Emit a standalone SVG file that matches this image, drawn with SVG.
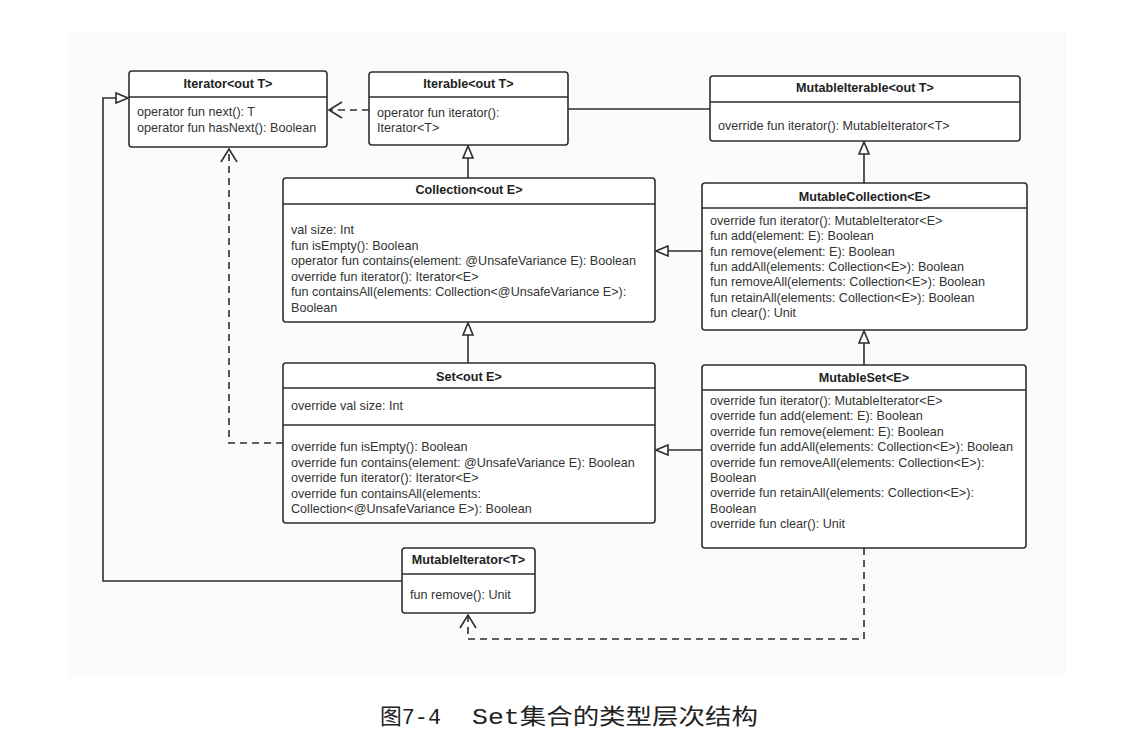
<svg xmlns="http://www.w3.org/2000/svg" width="1130" height="738" viewBox="0 0 1130 738">
<style>
.box{fill:#fff;stroke:#2e2e2e;stroke-width:1.6}
.sep{stroke:#2e2e2e;stroke-width:1.6}
.t{font-family:"Liberation Sans",Arial,sans-serif;font-size:12.6px;fill:#333}
.h{font-family:"Liberation Sans",Arial,sans-serif;font-size:12.6px;font-weight:bold;fill:#222;text-anchor:middle}
.c{fill:none;stroke:#2e2e2e;stroke-width:1.6}
.d{stroke-dasharray:7 5}
.cap{font-family:"Liberation Mono","Noto Sans CJK SC",monospace;font-size:22px;fill:#222}
</style>
<defs>
<marker id="tri" markerUnits="userSpaceOnUse" viewBox="-1 -1 14 12" markerWidth="14" markerHeight="12" refX="12" refY="5" orient="auto">
<path d="M0,0 L12,5 L0,10 Z" fill="#fff" stroke="#2e2e2e" stroke-width="1.6"/>
</marker>
<marker id="open" markerUnits="userSpaceOnUse" viewBox="-1 -1 16 18" markerWidth="16" markerHeight="18" refX="13" refY="8" orient="auto">
<path d="M0,0 L13,8 L0,16" fill="none" stroke="#2e2e2e" stroke-width="1.6"/>
</marker>
</defs>
<rect x="69" y="31" width="997" height="646" fill="#fbfbfb"/>

<g id="connectors">
<path class="c d" d="M369,110 L329,110" marker-end="url(#open)"/>
<path class="c" d="M568,109 L710,109"/>
<path class="c" d="M468,178 L468,146" marker-end="url(#tri)"/>
<path class="c" d="M864,183 L864,142" marker-end="url(#tri)"/>
<path class="c" d="M702,251 L656,251" marker-end="url(#tri)"/>
<path class="c" d="M468,363 L468,323" marker-end="url(#tri)"/>
<path class="c" d="M864,365 L864,331" marker-end="url(#tri)"/>
<path class="c" d="M702,450 L656,450" marker-end="url(#tri)"/>
<path class="c d" d="M283,443 L229,443 L229,149" marker-end="url(#open)"/>
<path class="c" d="M402,581 L103,581 L103,98 L128,98" marker-end="url(#tri)"/>
<path class="c d" d="M864,548 L864,639 L468,639 L468,615" marker-end="url(#open)"/>
</g>

<g id="Iterator">
<rect class="box" x="129" y="71" width="198" height="76" rx="3"/>
<line class="sep" x1="129" y1="97" x2="327" y2="97"/>
<text class="h" x="228" y="88">Iterator&lt;out T&gt;</text>
<text class="t" x="137" y="116">operator fun next(): T</text>
<text class="t" x="137" y="132">operator fun hasNext(): Boolean</text>
</g>

<g id="Iterable">
<rect class="box" x="369" y="72" width="199" height="73" rx="3"/>
<line class="sep" x1="369" y1="97" x2="568" y2="97"/>
<text class="h" x="468.5" y="88">Iterable&lt;out T&gt;</text>
<text class="t" x="377" y="117">operator fun iterator():</text>
<text class="t" x="377" y="132">Iterator&lt;T&gt;</text>
</g>

<g id="MutableIterable">
<rect class="box" x="710" y="76" width="310" height="65" rx="3"/>
<line class="sep" x1="710" y1="102" x2="1020" y2="102"/>
<text class="h" x="865" y="92">MutableIterable&lt;out T&gt;</text>
<text class="t" x="718" y="130">override fun iterator(): MutableIterator&lt;T&gt;</text>
</g>

<g id="Collection">
<rect class="box" x="283" y="178" width="372" height="144" rx="3"/>
<line class="sep" x1="283" y1="204" x2="655" y2="204"/>
<text class="h" x="469" y="194">Collection&lt;out E&gt;</text>
<text class="t" x="291" y="234">val size: Int</text>
<text class="t" x="291" y="249.5">fun isEmpty(): Boolean</text>
<text class="t" x="291" y="265">operator fun contains(element: @UnsafeVariance E): Boolean</text>
<text class="t" x="291" y="280.5">override fun iterator(): Iterator&lt;E&gt;</text>
<text class="t" x="291" y="296">fun containsAll(elements: Collection&lt;@UnsafeVariance E&gt;):</text>
<text class="t" x="291" y="311.5">Boolean</text>
</g>

<g id="MutableCollection">
<rect class="box" x="702" y="183" width="325" height="147" rx="3"/>
<line class="sep" x1="702" y1="208" x2="1027" y2="208"/>
<text class="h" x="864.5" y="201">MutableCollection&lt;E&gt;</text>
<text class="t" x="710" y="225">override fun iterator(): MutableIterator&lt;E&gt;</text>
<text class="t" x="710" y="240.3">fun add(element: E): Boolean</text>
<text class="t" x="710" y="255.6">fun remove(element: E): Boolean</text>
<text class="t" x="710" y="270.9">fun addAll(elements: Collection&lt;E&gt;): Boolean</text>
<text class="t" x="710" y="286.2">fun removeAll(elements: Collection&lt;E&gt;): Boolean</text>
<text class="t" x="710" y="301.5">fun retainAll(elements: Collection&lt;E&gt;): Boolean</text>
<text class="t" x="710" y="316.8">fun clear(): Unit</text>
</g>

<g id="Set">
<rect class="box" x="283" y="363" width="372" height="160" rx="3"/>
<line class="sep" x1="283" y1="388" x2="655" y2="388"/>
<line class="sep" x1="283" y1="425" x2="655" y2="425"/>
<text class="h" x="469" y="381">Set&lt;out E&gt;</text>
<text class="t" x="291" y="410">override val size: Int</text>
<text class="t" x="291" y="451">override fun isEmpty(): Boolean</text>
<text class="t" x="291" y="466.5">override fun contains(element: @UnsafeVariance E): Boolean</text>
<text class="t" x="291" y="482">override fun iterator(): Iterator&lt;E&gt;</text>
<text class="t" x="291" y="497.5">override fun containsAll(elements:</text>
<text class="t" x="291" y="513">Collection&lt;@UnsafeVariance E&gt;): Boolean</text>
</g>

<g id="MutableSet">
<rect class="box" x="702" y="365" width="324" height="183" rx="3"/>
<line class="sep" x1="702" y1="390" x2="1026" y2="390"/>
<text class="h" x="864" y="382">MutableSet&lt;E&gt;</text>
<text class="t" x="710" y="405">override fun iterator(): MutableIterator&lt;E&gt;</text>
<text class="t" x="710" y="420.4">override fun add(element: E): Boolean</text>
<text class="t" x="710" y="435.8">override fun remove(element: E): Boolean</text>
<text class="t" x="710" y="451.2">override fun addAll(elements: Collection&lt;E&gt;): Boolean</text>
<text class="t" x="710" y="466.6">override fun removeAll(elements: Collection&lt;E&gt;):</text>
<text class="t" x="710" y="482">Boolean</text>
<text class="t" x="710" y="497.4">override fun retainAll(elements: Collection&lt;E&gt;):</text>
<text class="t" x="710" y="512.8">Boolean</text>
<text class="t" x="710" y="528.2">override fun clear(): Unit</text>
</g>

<g id="MutableIterator">
<rect class="box" x="402" y="548" width="133" height="65" rx="3"/>
<line class="sep" x1="402" y1="574" x2="535" y2="574"/>
<text class="h" x="468.5" y="564">MutableIterator&lt;T&gt;</text>
<text class="t" x="410" y="599">fun remove(): Unit</text>
</g>

<g id="caption">
<text class="cap" x="380" y="724" textLength="61" lengthAdjust="spacingAndGlyphs">图7-4</text>
<text class="cap" x="472" y="724" textLength="286" lengthAdjust="spacingAndGlyphs">Set集合的类型层次结构</text>
</g>
</svg>
